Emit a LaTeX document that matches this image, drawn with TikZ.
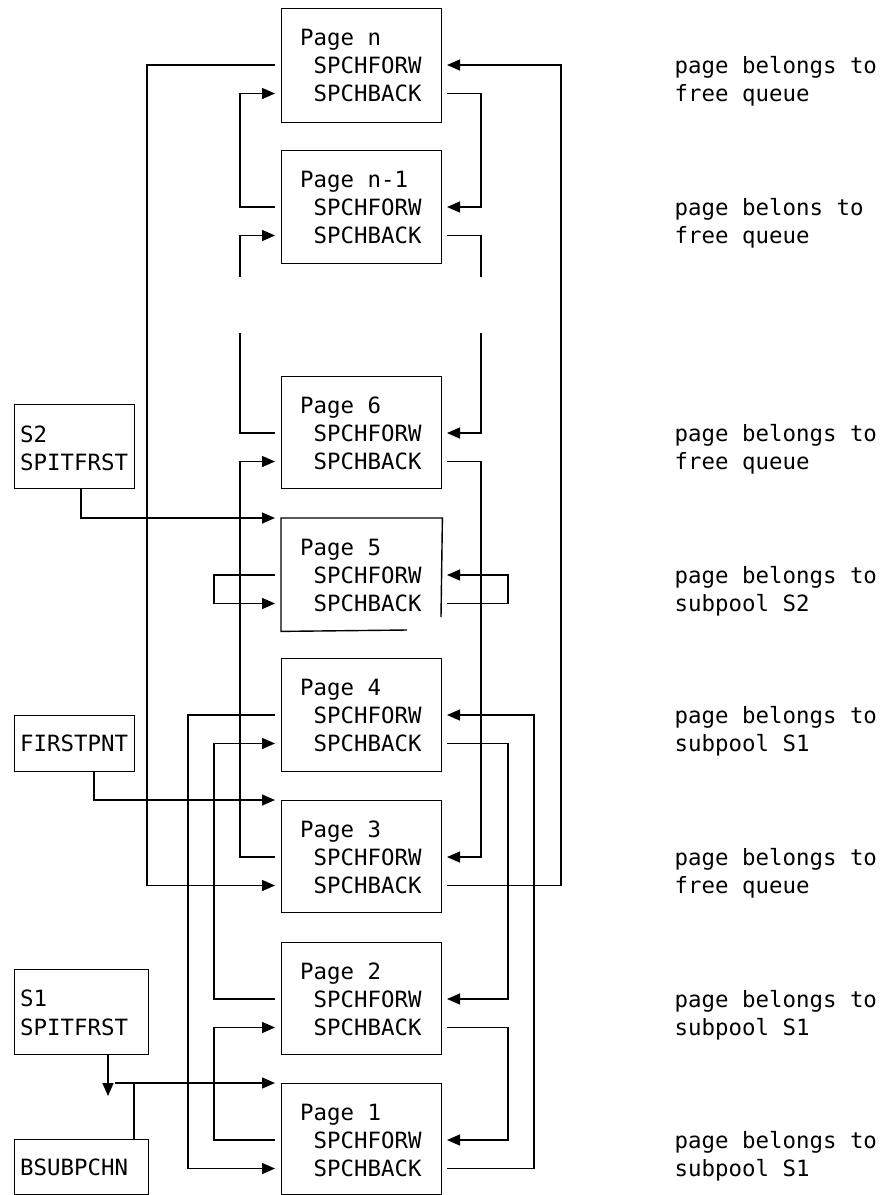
\documentclass[tikz,border=0pt]{standalone}
\usepackage{fontspec}
\newfontfamily\monof{DejaVu Sans Mono}
\usetikzlibrary{arrows.meta}
\newcommand\dgfont{\monof\fontsize{22.4}{28}\selectfont}
\tikzset{
  ln/.style={line width=1.4pt},
  arr/.style={ln, -{Triangle[length=13pt,width=11pt]}},
  bx/.style={draw, line width=1.4pt, rectangle, inner sep=0pt, anchor=north west},
  tx/.style={inner sep=0pt, anchor=base west, font=\dgfont},
}
% name, top, height, title, label line 1, label line 2, extra box style
\newcommand\pagebox[7]{%
  \node[bx, minimum width=160, minimum height=#3, #7] (#1) at (281,#2) {};
  \node[tx] (#1t) at (300,#2+37) {#4};
  \node[tx] (#1f) at (313.5,#2+65) {SPCHFORW};
  \node[tx] (#1b) at (313.5,#2+93.5) {SPCHBACK};
  \node[tx] (#1la) at (674.5,#2+65) {#5};
  \node[tx] (#1lb) at (674.5,#2+93.5) {#6};
  \coordinate (#1FL) at (275,#2+57);
  \coordinate (#1FR) at (447,#2+57);
  \coordinate (#1BL) at (275,#2+85.5);
  \coordinate (#1BR) at (447,#2+85.5);
}
\begin{document}
\begin{tikzpicture}[x=1pt,y=-1pt]
\useasboundingbox (0,0) rectangle (881,1195);
% columns of the vertical runs
\coordinate (cA) at (147,0);
\coordinate (cB) at (188,0);
\coordinate (cC) at (214,0);
\coordinate (cD) at (240,0);
\coordinate (cE) at (481,0);
\coordinate (cF) at (508,0);
\coordinate (cG) at (534,0);
\coordinate (cH) at (561,0);

\pagebox{pn}{8}{114}{Page n}{page belongs to}{free queue}{}
\pagebox{pm}{150}{113}{Page n-1}{page belons to}{free queue}{}
\pagebox{p6}{376}{112}{Page 6}{page belongs to}{free queue}{}
\pagebox{p5}{518}{112}{Page 5}{page belongs to}{subpool S2}{draw=none}
\pagebox{p4}{658}{113}{Page 4}{page belongs to}{subpool S1}{}
\pagebox{p3}{800}{112}{Page 3}{page belongs to}{free queue}{}
\pagebox{p2}{942}{112}{Page 2}{page belongs to}{subpool S1}{}
\pagebox{p1}{1083}{111}{Page 1}{page belongs to}{subpool S1}{}

% partial outline of page 5
\draw[ln] (441,617) -- (p5.north east) -- (p5.north west) -- (p5.south west) -- (407,630);

% left boxes
\node[bx, minimum width=120, minimum height=84] (s2) at (14,404) {};
\node[tx] (s2a) at (20,442) {S2};
\node[tx] (s2b) at (20,470) {SPITFRST};
\node[bx, minimum width=120, minimum height=56] (fp) at (14,715) {};
\node[tx] (fpa) at (20,751) {FIRSTPNT};
\node[bx, minimum width=134, minimum height=85] (s1) at (14,969) {};
\node[tx] (s1a) at (20,1006) {S1};
\node[tx] (s1b) at (20,1035) {SPITFRST};
\node[bx, minimum width=134, minimum height=55] (bs) at (14,1139) {};
\node[tx] (bsa) at (20,1175) {BSUBPCHN};

% free queue: n <-> n-1
\draw[arr] (pnFL) -- (pnFL -| cA) |- (p3BL);
\draw[arr] (p3BR) -- (p3BR -| cH) |- (pnFR);
\draw[arr] (pnBR) -- (pnBR -| cE) |- (pmFR);
\draw[arr] (pmFL) -- (pmFL -| cD) |- (pnBL);
% broken runs between n-1 and 6
\coordinate (gL1) at (240,277);
\coordinate (gR1) at (481,277);
\coordinate (gL2) at (240,333);
\coordinate (gR2) at (481,333);
\draw[arr] (gL1) |- (pmBL);
\draw[ln] (pmBR) -| (gR1);
\draw[ln] (p6FL) -| (gL2);
\draw[arr] (gR2) |- (p6FR);
% 6 <-> 3
\draw[arr] (p6BR) -- (p6BR -| cE) |- (p3FR);
\draw[arr] (p3FL) -- (p3FL -| cD) |- (p6BL);
% S2 anchor and page 5 self loop
\coordinate (s2o) at (81,488);
\coordinate (p5in) at (275,518);
\draw[arr] (s2o) |- (p5in);
\draw[arr] (p5FL) -- (p5FL -| cC) |- (p5BL);
\draw[arr] (p5BR) -- (p5BR -| cF) |- (p5FR);
% FIRSTPNT
\coordinate (fpo) at (94,771);
\coordinate (p3in) at (275,800);
\draw[arr] (fpo) |- (p3in);
% subpool S1: 4, 2, 1
\draw[arr] (p4FL) -- (p4FL -| cB) |- (p1BL);
\draw[arr] (p1BR) -- (p1BR -| cG) |- (p4FR);
\draw[arr] (p4BR) -- (p4BR -| cF) |- (p2FR);
\draw[arr] (p2FL) -- (p2FL -| cC) |- (p4BL);
\draw[arr] (p2BR) -- (p2BR -| cF) |- (p1FR);
\draw[arr] (p1FL) -- (p1FL -| cC) |- (p2BL);
% S1 and BSUBPCHN
\coordinate (s1o) at (108,1054);
\coordinate (s1t) at (108,1096);
\draw[arr] (s1o) -- (s1t);
\coordinate (jL) at (115,1083);
\coordinate (p1in) at (275,1083);
\draw[arr] (jL) -- (p1in);
\coordinate (jB) at (134,1083);
\draw[ln] (jB) -- (bs.north -| jB);
\end{tikzpicture}
\end{document}
